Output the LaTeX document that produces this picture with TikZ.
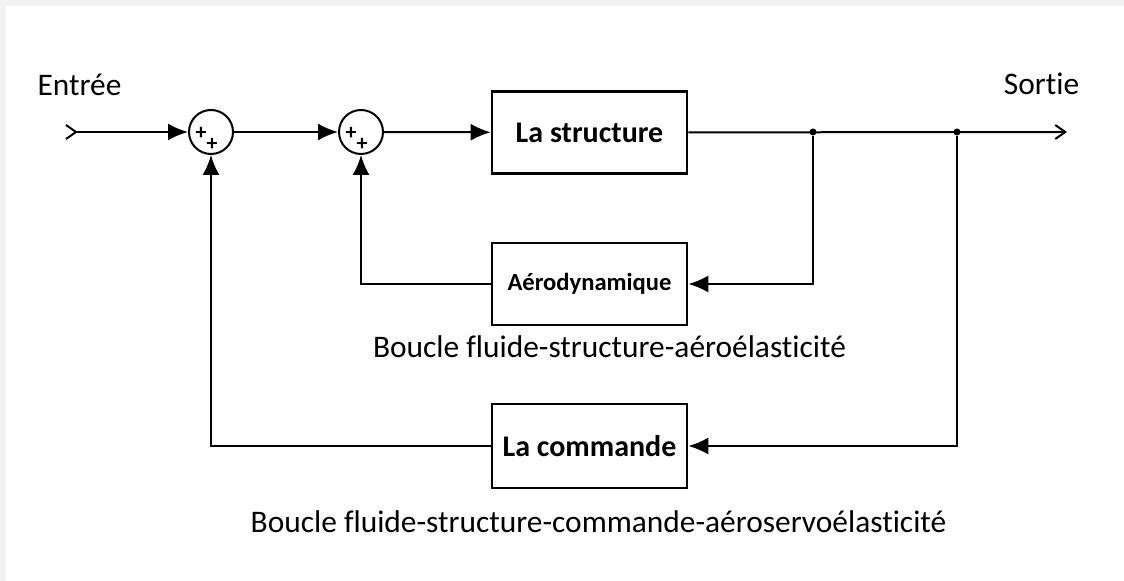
\documentclass[tikz,border=0pt]{standalone}
\usepackage{fontspec}
\setmainfont[Ligatures=NoCommon]{Carlito}
\usetikzlibrary{arrows.meta}

\begin{document}
\begin{tikzpicture}[
        x=0.5pt, y=-0.5pt,
        blocbox/.style  = {rectangle, draw, line width=1.3pt,
                           minimum width=97.5pt, minimum height=41pt,
                           inner sep=0pt, font=\fontsize{15}{18}\selectfont\bfseries},
        sumnode/.style  = {circle, draw, line width=1pt,
                           minimum size=22pt, inner sep=0pt},
        plus/.style     = {inner sep=0pt, font=\fontsize{11}{11}\selectfont\bfseries},
        jonction/.style = {circle, fill, inner sep=0pt, minimum size=3.5pt},
        arr/.style      = {-{Latex[length=10pt,width=8.5pt]}, line width=1pt},
        lbl/.style      = {anchor=base, font=\fontsize{15.7}{18}\selectfont}
    ]
        \useasboundingbox (0,0) rectangle (1124,581);
        \fill[gray!10] (0,0) rectangle (1124,6);
        \fill[gray!10] (0,0) rectangle (6,581);

        % sommateurs
        \node[sumnode] (s1) at (211,132) {};
        \node[sumnode] (s2) at (361,132) {};
        \foreach \s in {s1,s2} {
            \node[plus] at ([shift={(-10,1)}]\s.center) {+};
            \node[plus] at ([shift={(1,12)}]\s.center) {+};
        }

        % blocs
        \node[blocbox] (struct) at (589.5,132.5) {La structure};
        \node[blocbox, font=\fontsize{12.3}{14}\selectfont\bfseries]
            (aero) at (589.5,284) {Aérodynamique};
        \node[blocbox, minimum height=42pt] (cmd) at (589.5,446) {La commande};

        \coordinate (in)  at (65,132);
        \coordinate (out) at (1067,132);
        \node[jonction] (b1) at (813,132) {};
        \node[jonction] (b2) at (957,132) {};

        % textes
        \node[lbl] (entree) at (79.5,96) {Entrée};
        \node[lbl] (sortie) at (1041.5,95) {Sortie};
        \node[lbl] (boucle1) at (609.5,358) {Boucle fluide-structure-aéroélasticité};
        \node[lbl] (boucle2) at (598.5,533)
            {Boucle fluide-structure-commande-aéroservoélasticité};

        % liaisons
        \draw[line width=1pt,
              {Straight Barb[reversed,length=5pt,width=7pt]}-{Latex[length=10pt,width=8.5pt]}]
            (in) -- (s1);
        \draw[arr] (s1) -- (s2);
        \draw[arr] (s2) -- (struct);
        \draw[line width=1pt, -{Straight Barb[length=5pt,width=7pt]}] (struct) -- (out);
        \draw[arr] (b1) |- (aero);
        \draw[arr] (aero) -| (s2);
        \draw[arr] (b2) |- (cmd);
        \draw[arr] (cmd) -| (s1);
    \end{tikzpicture}
\end{document}
